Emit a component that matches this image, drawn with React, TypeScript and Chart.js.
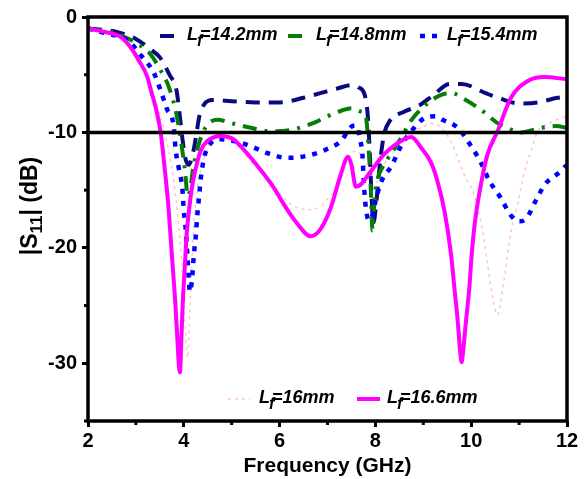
import React, { useEffect, useRef } from 'react';
import { Chart, registerables } from 'chart.js';

Chart.register(...registerables);

const FONT = 'Arial, "Liberation Sans", sans-serif';

// ---- data (frequency in GHz, |S11| in dB) ----
const f142 = [2.0, 2.3, 2.6, 3.0, 3.3, 3.5, 3.7, 3.85, 3.9, 3.97, 4.03, 4.1, 4.18, 4.25, 4.32, 4.42, 4.6, 5.0, 5.5, 6.0, 6.5, 6.85, 7.2, 7.5, 7.65, 7.78, 7.84, 7.88, 7.92, 7.96, 8.02, 8.1, 8.18, 8.3, 8.6, 8.9, 9.2, 9.55, 9.8, 10.3, 10.7, 11.0, 11.4, 11.8, 12.0];
const s142 = [-1.0, -1.1, -1.3, -1.9, -2.8, -3.5, -5.0, -6.4, -8.0, -10.5, -12.2, -12.8, -12.0, -10.5, -8.7, -7.6, -7.2, -7.3, -7.4, -7.4, -7.0, -6.6, -6.2, -5.9, -6.1, -6.8, -8.5, -11.5, -15.5, -17.8, -16.0, -12.5, -10.2, -9.0, -8.2, -7.7, -6.8, -5.8, -5.8, -6.6, -7.2, -7.5, -7.4, -7.0, -6.9];

const f148 = [2.0, 2.5, 2.8, 3.1, 3.3, 3.5, 3.7, 3.85, 3.95, 4.03, 4.08, 4.13, 4.2, 4.3, 4.45, 4.7, 5.0, 5.4, 5.8, 6.2, 6.7, 7.0, 7.3, 7.5, 7.7, 7.8, 7.86, 7.9, 7.94, 7.98, 8.05, 8.15, 8.3, 8.46, 8.6, 8.74, 9.05, 9.4, 9.6, 9.85, 10.24, 10.52, 10.8, 11.04, 11.46, 11.77, 12.0];
const s148 = [-1.0, -1.3, -1.8, -2.5, -3.2, -4.5, -6.2, -8.5, -11.0, -13.5, -15.5, -15.0, -13.0, -11.2, -9.6, -8.9, -9.2, -9.6, -9.9, -9.8, -9.2, -8.6, -8.1, -7.9, -8.2, -8.6, -11.5, -14.5, -18.5, -16.0, -14.0, -13.0, -12.0, -11.0, -10.0, -9.0, -7.6, -6.7, -6.6, -7.1, -8.15, -9.1, -9.7, -10.0, -9.6, -9.45, -9.6];

const f154 = [2.0, 2.36, 2.85, 3.12, 3.37, 3.51, 3.65, 3.79, 3.83, 3.9, 3.97, 4.0, 4.04, 4.08, 4.13, 4.18, 4.21, 4.25, 4.28, 4.32, 4.36, 4.43, 4.55, 4.77, 5.1, 5.4, 5.75, 6.16, 6.54, 6.96, 7.28, 7.5, 7.6, 7.68, 7.73, 7.76, 7.8, 7.86, 7.92, 8.0, 8.11, 8.35, 8.53, 8.81, 9.05, 9.25, 9.4, 9.72, 10.0, 10.2, 10.38, 10.62, 10.83, 11.0, 11.14, 11.35, 11.54, 11.86, 12.0];
const s154 = [-1.0, -1.4, -2.1, -3.4, -4.8, -6.3, -8.0, -9.5, -11.5, -13.2, -14.9, -16.8, -18.4, -21.0, -23.8, -22.3, -20.6, -19.0, -17.3, -15.5, -13.8, -12.1, -11.0, -10.6, -10.8, -11.2, -11.8, -12.2, -12.05, -11.5, -10.75, -9.5, -9.4, -10.6, -12.0, -14.5, -16.5, -17.6, -17.4, -16.0, -14.4, -12.8, -11.2, -9.6, -8.7, -8.6, -8.9, -9.6, -11.2, -12.6, -14.2, -15.7, -17.2, -17.7, -17.5, -15.9, -14.5, -13.4, -12.8];

const f160 = [2.0, 2.5, 3.0, 3.26, 3.4, 3.6, 3.8, 3.95, 4.03, 4.08, 4.13, 4.2, 4.3, 4.45, 4.7, 5.0, 5.4, 5.9, 6.23, 6.58, 6.86, 7.07, 7.21, 7.4, 7.6, 7.8, 7.95, 8.1, 8.4, 8.7, 9.0, 9.2, 9.4, 9.57, 9.85, 10.06, 10.24, 10.34, 10.45, 10.55, 10.66, 10.76, 10.83, 10.97, 11.11, 11.25, 11.39, 11.5, 11.73, 12.0];
const s160 = [-1.0, -1.4, -3.0, -5.4, -7.2, -10.0, -14.5, -21.0, -27.0, -29.5, -25.0, -18.5, -14.5, -11.8, -10.5, -10.7, -12.5, -14.8, -16.2, -16.7, -16.4, -15.4, -14.8, -12.5, -11.6, -12.8, -15.0, -13.5, -11.2, -10.2, -9.5, -9.2, -9.7, -10.75, -13.6, -15.4, -18.6, -21.4, -24.3, -25.8, -23.5, -20.6, -18.6, -16.2, -13.4, -11.6, -9.9, -9.5, -9.0, -8.6];

const f166 = [2.0, 2.36, 2.71, 2.92, 3.05, 3.23, 3.33, 3.44, 3.52, 3.6, 3.67, 3.72, 3.77, 3.82, 3.86, 3.9, 3.92, 3.95, 3.98, 4.02, 4.06, 4.13, 4.18, 4.25, 4.35, 4.49, 4.77, 5.0, 5.19, 5.4, 5.65, 5.88, 6.1, 6.35, 6.65, 6.85, 7.07, 7.28, 7.43, 7.5, 7.59, 7.7, 7.83, 8.18, 8.6, 8.75, 8.95, 9.16, 9.3, 9.45, 9.58, 9.65, 9.72, 9.77, 9.8, 9.83, 9.89, 9.96, 10.01, 10.08, 10.19, 10.34, 10.55, 10.83, 11.18, 11.53, 12.0];
const s166 = [-1.0, -1.3, -1.8, -2.8, -3.7, -5.1, -6.6, -8.3, -10.1, -13.1, -16.0, -18.8, -21.7, -24.6, -27.5, -30.3, -30.8, -27.8, -24.6, -21.7, -18.8, -16.0, -14.5, -13.1, -11.6, -10.75, -10.3, -10.5, -11.2, -12.2, -13.5, -14.8, -16.3, -17.8, -19.0, -18.4, -16.5, -13.6, -12.1, -12.8, -14.7, -14.5, -13.8, -11.9, -10.6, -10.4, -11.3, -12.6, -14.3, -17.0, -20.6, -23.5, -26.4, -29.0, -29.9, -29.0, -26.4, -23.5, -20.6, -17.7, -14.8, -11.9, -9.9, -7.0, -5.55, -5.2, -5.4];

const legendLabels = ['=14.2mm', '=14.8mm', '=15.4mm', '=16mm', '=16.6mm'];
const xTicks = [2, 4, 6, 8, 10, 12];
const xMinor = [3, 5, 7, 9, 11];
const yTicks = [-30, -20, -10, 0];
const yMinor = [-35, -25, -15, -5];
const refLevel = -10;

const pts = (xs: number[], ys: number[]) => xs.map((x, i) => ({ x, y: ys[i] }));

const styles = [
  { color: '#0a0a80', width: 4, dash: [14, 9], order: 3 },
  { color: '#067d06', width: 4, dash: [14, 8, 3, 8], order: 2 },
  { color: '#0000ff', width: 4.5, dash: [5, 7], order: 1 },
  { color: '#ffc4c8', width: 1.5, dash: [3, 4], order: 5 },
  { color: '#ff00ff', width: 4, dash: [] as number[], order: 0 },
];

// legend placement: [sampleStart, sampleEnd, textX, baselineY]
const legendPos = [
  [160, 177, 187, 40],
  [288, 303, 316, 40],
  [420, 440, 447, 40],
  [228, 250, 259, 403],
  [357, 380, 387, 403],
];

const decor = {
  id: 'decor',
  afterDatasetsDraw(chart: any) {
    const { ctx, chartArea: a, scales } = chart;
    const xs = scales.x;
    const ys = scales.y;
    ctx.save();
    ctx.strokeStyle = '#000';
    ctx.lineCap = 'butt';
    // reference line
    ctx.lineWidth = 3.5;
    const y10 = ys.getPixelForValue(refLevel);
    ctx.beginPath();
    ctx.moveTo(a.left, y10);
    ctx.lineTo(a.right, y10);
    ctx.stroke();
    // frame
    ctx.strokeRect(a.left, a.top, a.right - a.left, a.bottom - a.top);
    // minor ticks
    ctx.lineWidth = 3;
    xMinor.forEach((v) => {
      const px = xs.getPixelForValue(v);
      ctx.beginPath();
      ctx.moveTo(px, a.bottom);
      ctx.lineTo(px, a.bottom + 4);
      ctx.stroke();
    });
    yMinor.forEach((v) => {
      const py = ys.getPixelForValue(v);
      ctx.beginPath();
      ctx.moveTo(a.left, py);
      ctx.lineTo(a.left - 4, py);
      ctx.stroke();
    });
    // legend
    legendLabels.forEach((lab, i) => {
      const st = styles[i];
      const [s0, s1, tx, by] = legendPos[i];
      ctx.strokeStyle = st.color;
      ctx.lineWidth = st.width;
      ctx.setLineDash(st.dash);
      ctx.beginPath();
      ctx.moveTo(s0, by - 4);
      ctx.lineTo(s1, by - 4);
      ctx.stroke();
      ctx.setLineDash([]);
      ctx.fillStyle = '#000';
      ctx.textBaseline = 'alphabetic';
      ctx.textAlign = 'left';
      ctx.font = `italic bold 18px ${FONT}`;
      ctx.fillText('L', tx, by);
      const lw = ctx.measureText('L').width;
      ctx.font = `italic bold 16px ${FONT}`;
      ctx.fillText('f', tx + lw - 1, by + 6);
      ctx.font = `italic bold 18px ${FONT}`;
      ctx.fillText(lab, tx + lw + 2, by);
    });
    // x title
    ctx.fillStyle = '#000';
    ctx.font = `bold 21px ${FONT}`;
    ctx.textAlign = 'center';
    ctx.textBaseline = 'alphabetic';
    ctx.fillText('Frequency (GHz)', (a.left + a.right) / 2, 472);
    // y title with subscript
    ctx.translate(37, 206);
    ctx.rotate(-Math.PI / 2);
    ctx.textAlign = 'left';
    const big = `bold 23px ${FONT}`;
    const small = `bold 17px ${FONT}`;
    ctx.font = big;
    const w1 = ctx.measureText('|S').width;
    const w3 = ctx.measureText('| (dB)').width;
    ctx.font = small;
    const w2 = ctx.measureText('11').width;
    let x0 = -(w1 + w2 + w3) / 2;
    ctx.font = big;
    ctx.fillText('|S', x0, 0);
    x0 += w1;
    ctx.font = small;
    ctx.fillText('11', x0, 5);
    x0 += w2;
    ctx.font = big;
    ctx.fillText('| (dB)', x0, 0);
    ctx.restore();
  },
};

export default function App() {
  const ref = useRef<HTMLCanvasElement>(null);
  useEffect(() => {
    if (!ref.current) return;
    const series = [
      pts(f142, s142),
      pts(f148, s148),
      pts(f154, s154),
      pts(f160, s160),
      pts(f166, s166),
    ];
    const chart = new Chart(ref.current, {
      type: 'line',
      data: {
        datasets: series.map((d, i) => ({
          label: 'L' + legendLabels[i],
          data: d,
          borderColor: styles[i].color,
          borderWidth: styles[i].width,
          borderDash: styles[i].dash,
          pointRadius: 0,
          fill: false,
          cubicInterpolationMode: 'monotone' as const,
          order: styles[i].order,
        })),
      },
      options: {
        responsive: false,
        animation: false,
        layout: { padding: { left: 0, top: 16, right: 17, bottom: 0 } },
        plugins: { legend: { display: false }, tooltip: { enabled: false } },
        scales: {
          x: {
            type: 'linear',
            min: 2,
            max: 12,
            afterBuildTicks: (axis: any) => {
              axis.ticks = xTicks.map((v) => ({ value: v }));
            },
            afterFit: (s: any) => {
              s.height = 58;
            },
            grid: { display: true, drawOnChartArea: false, drawTicks: true, tickLength: 6, tickWidth: 3, tickColor: '#000' },
            border: { display: false },
            ticks: { color: '#000', font: { family: FONT, size: 20, weight: 'bold' }, padding: 2, maxRotation: 0 },
          },
          y: {
            type: 'linear',
            min: -35,
            max: 0,
            afterBuildTicks: (axis: any) => {
              axis.ticks = yTicks.map((v) => ({ value: v }));
            },
            afterFit: (s: any) => {
              s.width = 88;
            },
            grid: { display: true, drawOnChartArea: false, drawTicks: true, tickLength: 6, tickWidth: 3, tickColor: '#000' },
            border: { display: false },
            ticks: { color: '#000', font: { family: FONT, size: 20, weight: 'bold' }, padding: 5 },
          },
        },
      },
      plugins: [decor],
    });
    return () => chart.destroy();
  }, []);
  return (
    <div style={{ position: 'absolute', left: 0, top: 0, width: 584, height: 479, background: '#fff' }}>
      <canvas ref={ref} width={584} height={479} />
    </div>
  );
}
